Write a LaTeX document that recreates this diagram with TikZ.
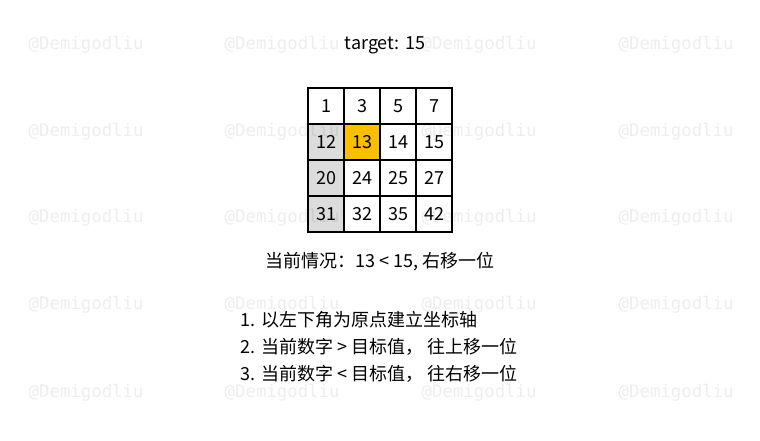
\documentclass[tikz,border=0pt]{standalone}
\usepackage{fontspec}
\setmainfont{Noto Sans CJK SC}
\newfontfamily\markfont{DejaVu Sans Mono}
\usepackage{xcolor}
\definecolor{cellgray}{HTML}{DCDCDC}
\definecolor{cellyellow}{HTML}{FAC000}
\usepackage{tikz}

\begin{document}
\begin{tikzpicture}[x=0.75pt,y=-0.75pt,
  cell/.style={draw=black, line width=1.5pt, fill=white, minimum size=27pt,
    inner sep=0pt, font=\fontsize{13.5}{15}\selectfont},
  txt/.style={font=\fontsize{13.5}{15}\selectfont},
  wmark/.style={anchor=west, text=black, opacity=0.07, font=\markfont\fontsize{13}{15}\selectfont}]
  \useasboundingbox[fill=white] (0,0) rectangle (760,440);
  % Title
  \node[txt] (title) at (385,45) {target: 15};
  % Matrix of numbers
  \foreach \r/\row in {0/{1,3,5,7},1/{12,13,14,15},2/{20,24,25,27},3/{31,32,35,42}} {
    \foreach \v [count=\c from 0] in \row {
      \node[cell] (cell-\r-\c) at ({326+36*\c},{106+36*\r}) {\v};
    }
  }
  % Visited cells and current cell
  \foreach \r/\v in {1/12,2/20,3/31}
    \node[cell, fill=cellgray] at (cell-\r-0) {\v};
  \node[cell, fill=cellyellow] at (cell-1-1) {13};
  % Current state
  \node[txt] (status) at (380,262) {当前情况：13 < 15, 右移一位};
  % Rules
  \node[txt, anchor=west] (step1) at (236,320) {1. 以左下角为原点建立坐标轴};
  \node[txt, anchor=west] (step2) at (236,347) {2. 当前数字 > 目标值， 往上移一位};
  \node[txt, anchor=west] (step3) at (236,374) {3. 当前数字 < 目标值， 往右移一位};
  % Watermark
  \foreach \y in {45,132,218,305,393}
    \foreach \x in {24,220,417,614}
      \node[wmark] at (\x,\y) {@Demigodliu};
\end{tikzpicture}
\end{document}
